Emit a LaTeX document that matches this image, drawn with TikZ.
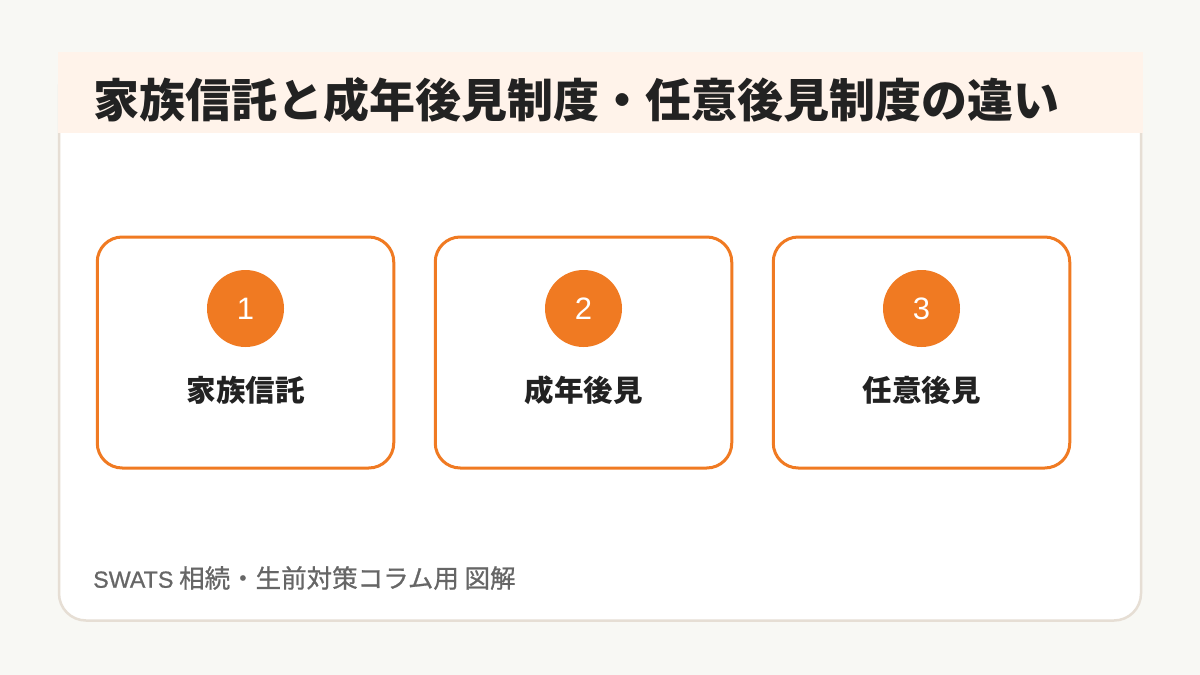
\documentclass[tikz,border=0pt]{standalone}
\usepackage{fontspec}
\setmainfont{Noto Sans CJK JP}
\newfontfamily\latinfont{Liberation Sans}
\newfontfamily\footfont{Noto Sans CJK JP}[FakeBold=0.8]
\definecolor{bgc}{HTML}{F8F8F4}
\definecolor{headc}{HTML}{FFF3EA}
\definecolor{cardline}{HTML}{E6DED4}
\definecolor{orangec}{HTML}{F07A22}
\definecolor{titlec}{HTML}{222222}
\definecolor{footc}{HTML}{666666}
\tikzset{
  itembox/.style={draw=orangec, line width=3pt, fill=white, rounded corners=25pt,
    minimum width=296.5pt, minimum height=231pt, inner sep=0pt},
  numdot/.style={circle, fill=orangec, minimum size=77pt, inner sep=0pt,
    text=white, font=\latinfont\fontsize{31}{36}\selectfont},
  itemlabel/.style={text=titlec, font=\fontsize{29.5}{34}\selectfont\bfseries, inner sep=0pt},
}
\begin{document}
\begin{tikzpicture}[x=1pt,y=-1pt]
\fill[bgc] (0,0) rectangle (1200,675);
\useasboundingbox (0,0) rectangle (1200,675);
% card
\draw[cardline, line width=2.5pt, fill=white, rounded corners=27pt] (59,60) rectangle (1141,620.5);
\fill[headc] (57.5,52) rectangle (1143,133);
\node[anchor=west, inner sep=0pt, text=titlec, font=\fontsize{46}{52}\selectfont\bfseries] (title) at (93,100) {家族信託と成年後見制度・任意後見制度の違い};
% boxes
\node[itembox] (b1) at (245.5,352.5) {};
\node[itembox] (b2) at (583.5,352.5) {};
\node[itembox] (b3) at (921.5,352.5) {};
\node[numdot] (n1) at (245.5,308.5) {1};
\node[numdot] (n2) at (583.5,308.5) {2};
\node[numdot] (n3) at (921.5,308.5) {3};
\node[itemlabel] (l1) at (245.5,390) {家族信託};
\node[itemlabel] (l2) at (583.5,390) {成年後見};
\node[itemlabel] (l3) at (921.5,390) {任意後見};
% footer
\node[anchor=west, inner sep=0pt, text=footc, font=\footfont\fontsize{25.5}{29}\selectfont] (foot) at (93,578) {{\latinfont\addfontfeatures{FakeBold=0.8}\fontsize{23.3}{27}\selectfont SWATS} 相続・生前対策コラム用 図解};
\end{tikzpicture}
\end{document}
